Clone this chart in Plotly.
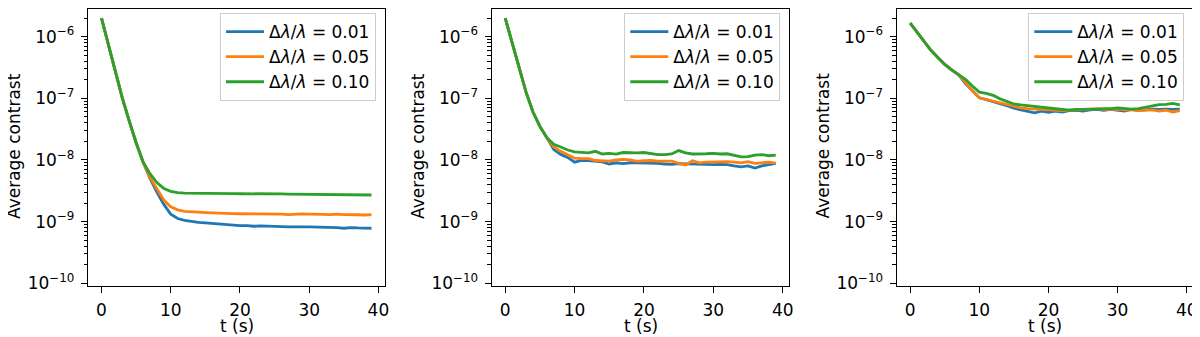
# -*- coding: utf-8 -*-
"""Average contrast versus time for three bandwidths, three panels"""
import plotly.graph_objects as go
from plotly.subplots import make_subplots

T = list(range(40))
LABELS = ["Δ<i>λ</i>/<i>λ</i> = 0.01", "Δ<i>λ</i>/<i>λ</i> = 0.05", "Δ<i>λ</i>/<i>λ</i> = 0.10"]
COLORS = ["#1f77b4", "#ff7f0e", "#2ca02c"]

# panel 1
P1_BLUE = [
    2.0e-6, 7.4e-7, 2.75e-7, 1.02e-7, 4.3e-8, 1.9e-8, 9.3e-9, 5.0e-9, 3.0e-9, 1.9e-9,
    1.32e-9, 1.12e-9, 1.05e-9, 1.0e-9, 0.97e-9, 0.95e-9, 0.93e-9, 0.92e-9, 0.90e-9, 0.87e-9,
    0.86e-9, 0.86e-9, 0.84e-9, 0.85e-9, 0.85e-9, 0.84e-9, 0.83e-9, 0.82e-9, 0.83e-9, 0.82e-9,
    0.82e-9, 0.82e-9, 0.80e-9, 0.81e-9, 0.80e-9, 0.78e-9, 0.80e-9, 0.79e-9, 0.78e-9, 0.78e-9,
]
P1_ORANGE = [
    2.0e-6, 7.4e-7, 2.75e-7, 1.02e-7, 4.3e-8, 1.9e-8, 9.3e-9, 5.2e-9, 3.4e-9, 2.24e-9,
    1.74e-9, 1.55e-9, 1.47e-9, 1.43e-9, 1.42e-9, 1.40e-9, 1.38e-9, 1.36e-9, 1.36e-9, 1.35e-9,
    1.34e-9, 1.34e-9, 1.33e-9, 1.32e-9, 1.34e-9, 1.33e-9, 1.32e-9, 1.30e-9, 1.32e-9, 1.33e-9,
    1.32e-9, 1.33e-9, 1.31e-9, 1.30e-9, 1.32e-9, 1.30e-9, 1.28e-9, 1.29e-9, 1.28e-9, 1.30e-9,
]
P1_GREEN = [
    2.0e-6, 7.4e-7, 2.75e-7, 1.02e-7, 4.3e-8, 1.9e-8, 9.3e-9, 6.0e-9, 4.3e-9, 3.45e-9,
    3.1e-9, 2.95e-9, 2.9e-9, 2.88e-9, 2.87e-9, 2.85e-9, 2.86e-9, 2.87e-9, 2.85e-9, 2.84e-9,
    2.83e-9, 2.84e-9, 2.82e-9, 2.83e-9, 2.84e-9, 2.86e-9, 2.82e-9, 2.80e-9, 2.79e-9, 2.80e-9,
    2.78e-9, 2.80e-9, 2.79e-9, 2.76e-9, 2.78e-9, 2.80e-9, 2.78e-9, 2.75e-9, 2.72e-9, 2.70e-9,
]

# panel 2
P2_BLUE = [
    2.0e-6, 7.9e-7, 3.2e-7, 1.26e-7, 6.0e-8, 3.5e-8, 2.3e-8, 1.48e-8, 1.23e-8, 1.1e-8,
    0.92e-8, 0.98e-8, 0.98e-8, 0.95e-8, 0.93e-8, 0.86e-8, 0.90e-8, 0.87e-8, 0.90e-8, 0.90e-8,
    0.90e-8, 0.90e-8, 0.88e-8, 0.86e-8, 0.85e-8, 0.87e-8, 0.86e-8, 0.86e-8, 0.84e-8, 0.84e-8,
    0.84e-8, 0.85e-8, 0.84e-8, 0.80e-8, 0.77e-8, 0.80e-8, 0.74e-8, 0.80e-8, 0.85e-8, 0.88e-8,
]
P2_ORANGE = [
    2.0e-6, 7.9e-7, 3.2e-7, 1.26e-7, 6.0e-8, 3.5e-8, 2.3e-8, 1.62e-8, 1.38e-8, 1.2e-8,
    1.07e-8, 1.05e-8, 1.05e-8, 0.98e-8, 0.97e-8, 0.96e-8, 1.0e-8, 1.02e-8, 1.0e-8, 0.95e-8,
    0.97e-8, 0.98e-8, 0.96e-8, 0.97e-8, 0.96e-8, 0.88e-8, 0.83e-8, 0.97e-8, 0.90e-8, 0.92e-8,
    0.93e-8, 0.93e-8, 0.94e-8, 0.92e-8, 0.90e-8, 0.94e-8, 0.88e-8, 0.90e-8, 0.92e-8, 0.89e-8,
]
P2_GREEN = [
    2.0e-6, 7.9e-7, 3.2e-7, 1.26e-7, 6.0e-8, 3.5e-8, 2.3e-8, 1.8e-8, 1.62e-8, 1.45e-8,
    1.35e-8, 1.32e-8, 1.30e-8, 1.38e-8, 1.25e-8, 1.28e-8, 1.24e-8, 1.32e-8, 1.30e-8, 1.30e-8,
    1.32e-8, 1.26e-8, 1.22e-8, 1.22e-8, 1.25e-8, 1.42e-8, 1.30e-8, 1.25e-8, 1.24e-8, 1.26e-8,
    1.28e-8, 1.25e-8, 1.26e-8, 1.20e-8, 1.12e-8, 1.13e-8, 1.20e-8, 1.22e-8, 1.17e-8, 1.20e-8,
]

# panel 3
P3_BLUE = [
    1.66e-6, 1.17e-6, 8.3e-7, 6.0e-7, 4.6e-7, 3.55e-7, 2.9e-7, 2.4e-7, 1.74e-7, 1.32e-7,
    1.02e-7, 9.5e-8, 8.9e-8, 8.3e-8, 7.6e-8, 6.9e-8, 6.5e-8, 6.2e-8, 5.8e-8, 6.2e-8,
    5.9e-8, 6.2e-8, 6.0e-8, 6.3e-8, 6.4e-8, 6.2e-8, 6.5e-8, 6.6e-8, 6.4e-8, 6.6e-8,
    6.4e-8, 6.2e-8, 6.6e-8, 6.4e-8, 6.5e-8, 6.7e-8, 6.6e-8, 6.7e-8, 6.6e-8, 6.7e-8,
]
P3_ORANGE = [
    1.66e-6, 1.17e-6, 8.3e-7, 6.0e-7, 4.6e-7, 3.55e-7, 2.9e-7, 2.4e-7, 1.82e-7, 1.32e-7,
    1.02e-7, 9.6e-8, 9.0e-8, 8.5e-8, 7.9e-8, 7.4e-8, 7.0e-8, 6.8e-8, 6.7e-8, 6.6e-8,
    6.5e-8, 6.4e-8, 6.3e-8, 6.4e-8, 6.5e-8, 6.5e-8, 6.6e-8, 6.8e-8, 6.6e-8, 6.6e-8,
    6.7e-8, 6.5e-8, 6.5e-8, 6.3e-8, 6.4e-8, 6.5e-8, 6.2e-8, 6.4e-8, 6.0e-8, 6.3e-8,
]
P3_GREEN = [
    1.66e-6, 1.17e-6, 8.3e-7, 6.0e-7, 4.6e-7, 3.55e-7, 2.9e-7, 2.4e-7, 2.04e-7, 1.58e-7,
    1.26e-7, 1.2e-7, 1.12e-7, 9.8e-8, 8.9e-8, 8.1e-8, 7.8e-8, 7.6e-8, 7.4e-8, 7.1e-8,
    7.1e-8, 6.9e-8, 6.6e-8, 6.4e-8, 6.6e-8, 6.6e-8, 6.7e-8, 6.7e-8, 6.8e-8, 6.8e-8,
    7.0e-8, 6.9e-8, 6.7e-8, 6.8e-8, 7.2e-8, 7.6e-8, 7.9e-8, 8.0e-8, 8.3e-8, 7.8e-8,
]

PANELS = [
    [P1_BLUE, P1_ORANGE, P1_GREEN],
    [P2_BLUE, P2_ORANGE, P2_GREEN],
    [P3_BLUE, P3_ORANGE, P3_GREEN],
]

Y_TICKS = [1e-10, 1e-9, 1e-8, 1e-7, 1e-6]
Y_TICK_TEXT = ["10<sup>−10</sup>", "10<sup>−9</sup>", "10<sup>−8</sup>", "10<sup>−7</sup>", "10<sup>−6</sup>"]
X_TICKS = [0, 10, 20, 30, 40]

# the page body has an 8px margin, so work in window pixels and shift
OFF = 8
W, H = 1200 - OFF, 337 - OFF
TOP, BOTTOM = 1, 286 - OFF
# window-pixel left/right edges of each axes box
BOXES = [(88, 385), (491.7, 789.3), (896.7, 1193.3)]
YTITLE_X = [14, 418, 822.5]

FONT = "DejaVu Sans, Liberation Sans, sans-serif"


def px(x):
    """window pixel x -> paper fraction"""
    return (x - OFF) / W


def py(y):
    """window pixel y -> paper fraction (plot area spans TOP..BOTTOM)"""
    return (BOTTOM + OFF - y) / (BOTTOM - TOP)


fig = make_subplots(rows=1, cols=3)

for col, series in enumerate(PANELS, start=1):
    legend_name = "legend" if col == 1 else f"legend{col}"
    for values, label, color in zip(series, LABELS, COLORS):
        fig.add_trace(
            go.Scatter(
                x=T, y=values, name=label, mode="lines",
                line=dict(color=color, width=2.8),
                legend=legend_name,
            ),
            row=1, col=col,
        )

minor_vals = [k * 10.0 ** e for e in range(-11, -5) for k in range(2, 10)]

for i, (left, right) in enumerate(BOXES):
    n = "" if i == 0 else str(i + 1)
    fig.layout[f"xaxis{n}"].update(
        domain=[px(left), px(right)],
        range=[-1.95, 40.95],
        tickvals=X_TICKS,
        ticks="outside", ticklen=6, tickwidth=1.3, tickcolor="black",
        ticklabelstandoff=2,
        showline=True, linecolor="black", linewidth=1.3, mirror=True,
        showgrid=False, zeroline=False, automargin=False,
        tickfont=dict(family=FONT, size=17, color="black"),
    )
    fig.layout[f"yaxis{n}"].update(
        type="log",
        range=[-10.045, -5.551],
        tickvals=Y_TICKS, ticktext=Y_TICK_TEXT,
        ticks="outside", ticklen=6, tickwidth=1.3, tickcolor="black",
        ticklabelstandoff=3,
        minor=dict(tickvals=minor_vals, ticks="outside", ticklen=3.3,
                   tickwidth=1, tickcolor="black", showgrid=False),
        showline=True, linecolor="black", linewidth=1.3, mirror=True,
        showgrid=False, zeroline=False, automargin=False,
        tickfont=dict(family=FONT, size=17, color="black"),
    )
    fig.add_annotation(
        text="t (s)", xref="paper", yref="paper",
        x=px((left + right) / 2), y=py(326),
        xanchor="center", yanchor="middle", showarrow=False,
        font=dict(family=FONT, size=17, color="black"),
    )
    fig.add_annotation(
        text="Average contrast", xref="paper", yref="paper",
        x=px(YTITLE_X[i]), y=py(146), textangle=-90,
        xanchor="center", yanchor="middle", showarrow=False,
        font=dict(family=FONT, size=17, color="black"),
    )

legend_style = dict(
    xanchor="right", yanchor="top",
    bgcolor="rgba(255,255,255,0.8)", bordercolor="#cccccc", borderwidth=1,
    itemwidth=38,
    font=dict(family=FONT, size=17, color="black"),
)
legends = {}
for i, (left, right) in enumerate(BOXES):
    key = "legend" if i == 0 else f"legend{i + 1}"
    legends[key] = dict(legend_style, x=px(right - 9), y=py(13))

fig.update_layout(
    width=W, height=H,
    margin=dict(l=0, r=0, t=TOP, b=H - BOTTOM),
    plot_bgcolor="white", paper_bgcolor="white",
    showlegend=True,
    **legends,
)

fig.write_html("out.html")
